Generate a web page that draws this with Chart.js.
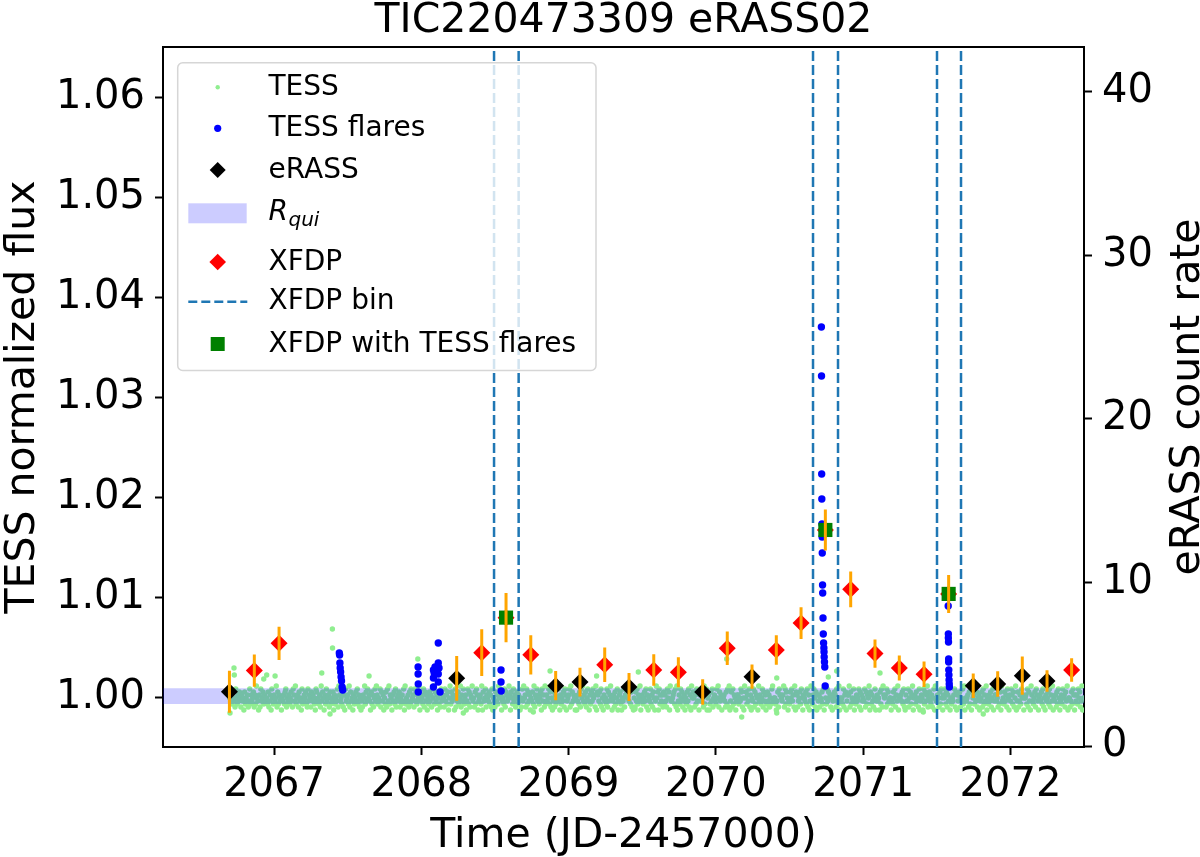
<!DOCTYPE html>
<html>
<head>
<meta charset="utf-8">
<script src="https://cdn.jsdelivr.net/npm/chart.js@4.4.0/dist/chart.umd.min.js"></script>
<style>
  html, body { margin: 0; padding: 0; background: #fff; }
</style>
</head>
<body>
<canvas id="c" width="1200" height="857"></canvas>
<script>
// axis limits + ticks
const X_MIN = 2066.246, X_MAX = 2072.499;
const Y_MIN = 0.9951, Y_MAX = 1.0651;
const Y2_MIN = -0.06, Y2_MAX = 42.74;
const X_TICKS = [2067, 2068, 2069, 2070, 2071, 2072];
const Y_TICKS = [1.00, 1.01, 1.02, 1.03, 1.04, 1.05, 1.06];
const Y2_TICKS = [0, 10, 20, 30, 40];

// eRASS points (count rate, right axis)
const ERASS_T    = [2066.697, 2068.240, 2068.912, 2069.077, 2069.410, 2069.910, 2070.245, 2071.747, 2071.913, 2072.080, 2072.248];
const ERASS_RATE = [3.32, 4.14, 3.69, 3.91, 3.61, 3.30, 4.24, 3.69, 3.79, 4.30, 3.98];
const ERASS_ERR  = [1.28, 1.37, 0.89, 0.88, 0.85, 0.78, 0.74, 0.75, 0.78, 1.17, 0.66];

// XFDP points
const XFDP_T    = [2066.866, 2067.034, 2068.410, 2068.575, 2068.743, 2069.245, 2069.578, 2069.745, 2070.077,
                   2070.410, 2070.578, 2070.743, 2070.915, 2071.080, 2071.245, 2071.413, 2071.580, 2072.415];
const XFDP_RATE = [4.61, 6.28, 5.71, 7.85, 5.58, 4.97, 4.65, 4.51, 5.98, 5.87, 7.52, 13.21, 9.58, 5.65, 4.77, 4.39, 9.30, 4.65];
const XFDP_ERR  = [0.99, 1.02, 1.43, 1.50, 1.20, 1.05, 0.96, 0.92, 1.02, 0.90, 0.97, 1.25, 1.09, 0.87, 0.77, 0.78, 1.16, 0.72];

// XFDP with TESS flares
const XFDPF_T    = [2068.575, 2070.743, 2071.580];
const XFDPF_RATE = [7.85, 13.21, 9.30];

// XFDP bin edges
const BIN_EDGES = [2068.4936, 2068.6606, 2070.6592, 2070.8289, 2071.5010, 2071.6640];

// quiescent rate band
const RQUI_LOW = 2.57, RQUI_HIGH = 3.53;

// TESS light curve: 0.005 d cadence, digit codes -> flux
const TESS_T0 = 2066.700, TESS_DT = 0.005;
const TESS_FLUX0 = 0.9985, TESS_FLUX_STEP = 0.0003;
const TESS_CODES = [
  "5463745285 3647526451 7354624836 4572639541 6284573645 5372461853 6459273645 1546378254 6357428649 3562745183",
  "4657328465 2746531874 5362947516 3845627354 7163548296 4537261845 6392745163 5748362514 2659374856 4173625849",
  "6354827461 5372849365 1647382564 7253648193 5462738456 2847365914 6538274615 3746285937 4615372846 5284637159",
  "3746518264 7359264835 6148372659 4527386145 6391745826 5473628154 2746395861 4538276459 6175384625 7364152849",
  "5628374615 4739265846 3571846293 6458372514 7263948516 3547286145 6829374651 5146372859 4637258416 3748562917",
  "6473825164 5382746951 4627358146 7315482697 5649372815 2748365914 6357482615 4836275149 5718364627 3642857194",
  "4567382914 6385724615 3748261957 5263847164 7452936815 6137482564 3859274615 5642738291 4728365146 6354872519",
  "5736482615 4827365194 6358274613 7462538945 5314728665 4692837514 3758462917 6245738516 5473826149 4368527164",
  "6254738195 3847562614 5762843915 4538267146 6927354815 3645827164 5482736591 7364258146 4517382965 6283745514",
  "3758264915 5647382164 4825736915 6374528146 5183746925 7436258194 4652738516 5837264915 3546827164 6725483915",
  "4562738195 6384725614 5728364915 3647258146 6452837194 5374628516 4863725914 7246385615 5638274196 4357286415",
  "6473825164 5738264915 4627385146 3856274915 5247386164 6385724915"
];
// scattered TESS points off the main band
const TESS_OUT_T = [2067.396, 2067.397, 2066.728, 2066.730, 2067.976, 2067.324, 2067.645, 2068.874, 2069.190, 2069.473,
                    2067.007, 2066.950, 2066.930, 2070.073, 2070.413, 2070.820, 2070.763, 2071.114,
                    2070.175, 2071.815, 2071.408, 2070.413, 2069.451, 2066.701, 2067.380, 2068.285, 2068.760];
const TESS_OUT_F = [1.0069, 1.0050, 1.0030, 1.0023, 1.0039, 1.0025, 1.0022, 1.0027, 1.0022, 1.0026,
                    1.0022, 1.0023, 1.0019, 1.0039, 1.0020, 1.0027, 1.0021, 1.0025,
                    0.9981, 0.9984, 0.9986, 0.9985, 0.9989, 0.9985, 0.9984, 0.9985, 0.9986];

// TESS flare points
const FLARE_T = [2067.443, 2067.445, 2067.447, 2067.449, 2067.452, 2067.455, 2067.458, 2067.462, 2067.466,
                 2067.978, 2067.978, 2067.979, 2067.979,
                 2068.115, 2068.115, 2068.093, 2068.082, 2068.115, 2068.082, 2068.115, 2068.082, 2068.127, 2068.120, 2068.087,
                 2068.541, 2068.541, 2068.542,
                 2070.716, 2070.717, 2070.718, 2070.719, 2070.720, 2070.721, 2070.722, 2070.724, 2070.725, 2070.727,
                 2070.729, 2070.731, 2070.733, 2070.734, 2070.735, 2070.737, 2070.739, 2070.742,
                 2071.577, 2071.578, 2071.578, 2071.579, 2071.580, 2071.580, 2071.581, 2071.582, 2071.583, 2071.584, 2071.585];
const FLARE_F = [1.0045, 1.0043, 1.0035, 1.0030, 1.0026, 1.0021, 1.0017, 1.0011, 1.0008,
                 1.0031, 1.0024, 1.0014, 1.0006,
                 1.0055, 1.0035, 1.0031, 1.0028, 1.0024, 1.0020, 1.0016, 1.0011, 1.0006, 1.0030, 1.0025,
                 1.0028, 1.0016, 1.0007,
                 1.0371, 1.0322, 1.0224, 1.0199, 1.0174, 1.0161, 1.0145, 1.0113, 1.0105, 1.0080,
                 1.0064, 1.0055, 1.0050, 1.0046, 1.0041, 1.0036, 1.0031, 1.0012,
                 1.0092, 1.0064, 1.0060, 1.0056, 1.0039, 1.0036, 1.0028, 1.0023, 1.0018, 1.0014, 1.0011];

const FONT = '"DejaVu Sans"';

const pts = (xs, ys) => xs.map((x, i) => ({ x: x, y: ys[i] }));

const tessPts = TESS_CODES.join("").replace(/\s/g, "").split("")
  .map((c, i) => ({ x: TESS_T0 + i * TESS_DT, y: TESS_FLUX0 + Number(c) * TESS_FLUX_STEP }))
  .concat(pts(TESS_OUT_T, TESS_OUT_F));

const errBars = [];
ERASS_T.concat(XFDP_T).forEach((t, i) => {
  const r = ERASS_RATE.concat(XFDP_RATE)[i];
  const e = ERASS_ERR.concat(XFDP_ERR)[i];
  errBars.push({ x: t, y: r - e }, { x: t, y: r + e }, { x: t, y: null });
});

const binLines = [];
BIN_EDGES.forEach(t => binLines.push({ x: t, y: Y_MIN }, { x: t, y: Y_MAX }, { x: t, y: null }));

const datasets = [
  { label: "errbars", data: errBars, yAxisID: "y2", showLine: true, borderColor: "#ffa500", borderWidth: 3,
    pointRadius: 0, order: 0 },
  { label: "XFDP with TESS flares", data: pts(XFDPF_T, XFDPF_RATE), yAxisID: "y2", pointStyle: "rect",
    pointRadius: 10, backgroundColor: "#008000", borderWidth: 0, order: 1 },
  { label: "XFDP", data: pts(XFDP_T, XFDP_RATE), yAxisID: "y2", pointStyle: "rectRot",
    pointRadius: 8.5, backgroundColor: "#ff0000", borderWidth: 0, order: 2 },
  { label: "eRASS", data: pts(ERASS_T, ERASS_RATE), yAxisID: "y2", pointStyle: "rectRot",
    pointRadius: 8.5, backgroundColor: "#000000", borderWidth: 0, order: 3 },
  { label: "TESS flares", data: pts(FLARE_T, FLARE_F), yAxisID: "y", pointRadius: 3.7,
    backgroundColor: "#0000ff", borderWidth: 0, order: 4 },
  { label: "XFDP bin", data: binLines, yAxisID: "y", showLine: true, borderColor: "#1f77b4", borderWidth: 2.5,
    borderDash: [10, 4], pointRadius: 0, order: 5 },
  { label: "Rqui", data: [{ x: X_MIN, y: RQUI_HIGH }, { x: X_MAX, y: RQUI_HIGH }], yAxisID: "y2", showLine: true,
    borderColor: "rgba(0,0,0,0)", borderWidth: 0, pointRadius: 0, fill: "+1", backgroundColor: "rgba(0,0,255,0.2)", order: 6 },
  { label: "Rqui low", data: [{ x: X_MIN, y: RQUI_LOW }, { x: X_MAX, y: RQUI_LOW }], yAxisID: "y2", showLine: true,
    borderColor: "rgba(0,0,0,0)", borderWidth: 0, pointRadius: 0, fill: false, order: 6 },
  { label: "TESS", data: tessPts, yAxisID: "y", pointRadius: 2.7, backgroundColor: "#90ee90", borderWidth: 0, order: 7 }
];

const axisStyle = {
  grid: { display: true, drawOnChartArea: false, drawTicks: true, tickLength: 8, tickWidth: 2, tickColor: "#000" },
  border: { display: true, color: "#000", width: 2 }
};

const overlay = {
  id: "overlay",
  afterDraw(chart) {
    const ctx = chart.ctx, a = chart.chartArea;
    const cx = (a.left + a.right) / 2, cy = (a.top + a.bottom) / 2;
    ctx.save();
    // top spine
    ctx.strokeStyle = "#000"; ctx.lineWidth = 2;
    ctx.beginPath(); ctx.moveTo(a.left - 1, a.top); ctx.lineTo(a.right + 1, a.top); ctx.stroke();

    ctx.fillStyle = "#000";
    ctx.textAlign = "center"; ctx.textBaseline = "alphabetic";
    ctx.font = "41px " + FONT;
    ctx.fillText("TIC220473309 eRASS02", cx, 32);
    ctx.fillText("Time (JD-2457000)", cx, 847);
    ctx.save(); ctx.translate(33.5, cy); ctx.rotate(-Math.PI / 2);
    ctx.fillText("TESS normalized flux", 0, 0); ctx.restore();
    ctx.save(); ctx.translate(1199, cy); ctx.rotate(-Math.PI / 2);
    ctx.fillText("eRASS count rate", 0, 0); ctx.restore();

    // legend
    const L = 177.7, T = 62.7, R = 596, B = 370.5;
    ctx.fillStyle = "rgba(255,255,255,0.8)";
    ctx.strokeStyle = "#d6d6d6"; ctx.lineWidth = 1.5;
    ctx.beginPath();
    if (ctx.roundRect) ctx.roundRect(L, T, R - L, B - T, 5); else ctx.rect(L, T, R - L, B - T);
    ctx.fill(); ctx.stroke();

    const mx = 217.7, tx = 268.5;
    const rows = [87.3, 128.3, 170, 213.3, 262, 301.7, 344];
    const diamond = (x, y, r, col) => {
      ctx.fillStyle = col; ctx.beginPath();
      ctx.moveTo(x - r, y); ctx.lineTo(x, y - r); ctx.lineTo(x + r, y); ctx.lineTo(x, y + r);
      ctx.closePath(); ctx.fill();
    };
    const dot = (x, y, r, col) => {
      ctx.fillStyle = col; ctx.beginPath(); ctx.arc(x, y, r, 0, Math.PI * 2); ctx.fill();
    };
    dot(mx, rows[0], 2.2, "#90ee90");
    dot(mx, rows[1], 3.6, "#0000ff");
    diamond(mx, rows[2], 8, "#000000");
    ctx.fillStyle = "rgba(0,0,255,0.2)";
    ctx.fillRect(188.3, rows[3] - 10, 58.4, 20);
    diamond(mx, rows[4], 8.3, "#ff0000");
    ctx.strokeStyle = "#1f77b4"; ctx.lineWidth = 2.5; ctx.setLineDash([9, 4]);
    ctx.beginPath(); ctx.moveTo(188.3, rows[5]); ctx.lineTo(247.3, rows[5]); ctx.stroke();
    ctx.setLineDash([]);
    ctx.fillStyle = "#008000";
    ctx.fillRect(mx - 7, rows[6] - 7, 14, 14);

    ctx.fillStyle = "#000"; ctx.textAlign = "left";
    ctx.font = "28px " + FONT;
    const labels = ["TESS", "TESS flares", "eRASS", null, "XFDP", "XFDP bin", "XFDP with TESS flares"];
    labels.forEach((s, i) => { if (s) ctx.fillText(s, tx, rows[i] + 7.7); });
    ctx.font = "italic 28px " + FONT;
    ctx.fillText("R", tx, rows[3] + 6.7);
    const wR = ctx.measureText("R").width;
    ctx.font = "italic 20px " + FONT;
    ctx.fillText("qui", tx + wR + 0.5, rows[3] + 12.5);
    ctx.restore();
  }
};

new Chart(document.getElementById("c"), {
  type: "scatter",
  data: { datasets: datasets },
  options: {
    responsive: false,
    animation: false,
    events: [],
    layout: { padding: { top: 47, left: 0, right: 0, bottom: 0 } },
    plugins: { legend: { display: false }, tooltip: { enabled: false }, title: { display: false } },
    scales: {
      x: Object.assign({
        type: "linear", position: "bottom", min: X_MIN, max: X_MAX,
        afterBuildTicks: s => { s.ticks = X_TICKS.map(v => ({ value: v })); },
        afterFit: s => { s.height = 110; },
        ticks: { font: { family: "DejaVu Sans", size: 40 }, color: "#000", padding: 7, autoSkip: false,
                 maxRotation: 0, callback: v => String(v) }
      }, axisStyle),
      y: Object.assign({
        type: "linear", position: "left", min: Y_MIN, max: Y_MAX,
        afterBuildTicks: s => { s.ticks = Y_TICKS.map(v => ({ value: v })); },
        afterFit: s => { s.width = 163; },
        ticks: { font: { family: "DejaVu Sans", size: 40 }, color: "#000", padding: 10, autoSkip: false,
                 callback: v => Number(v).toFixed(2) }
      }, axisStyle),
      y2: Object.assign({
        type: "linear", position: "right", min: Y2_MIN, max: Y2_MAX,
        afterBuildTicks: s => { s.ticks = Y2_TICKS.map(v => ({ value: v })); },
        afterFit: s => { s.width = 116; },
        ticks: { font: { family: "DejaVu Sans", size: 40 }, color: "#000", padding: 10, autoSkip: false,
                 callback: v => String(v) }
      }, axisStyle)
    }
  },
  plugins: [overlay]
});
</script>
</body>
</html>
